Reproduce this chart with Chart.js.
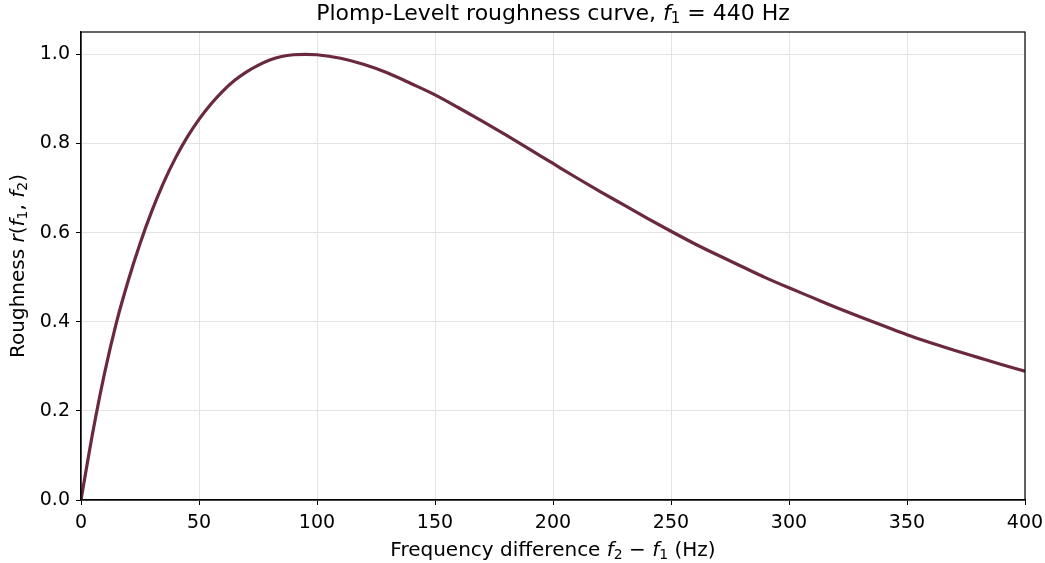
<!DOCTYPE html>
<html>
<head>
<meta charset="utf-8">
<script src="https://cdn.jsdelivr.net/npm/chart.js@4.4.1/dist/chart.umd.min.js"></script>
<style>
  html, body { margin: 0; padding: 0; background: #fff; }
  #wrap { width: 1045px; height: 563px; }
</style>
</head>
<body>
<div id="wrap"><canvas id="chart" width="1045" height="563"></canvas></div>
<script>
// frequency difference f2 - f1 in Hz
const freqDiff = [0, 5, 10, 15, 20, 25, 30, 35, 40, 45, 50, 55, 60, 65, 70, 75, 80, 85, 90, 95,
  100, 110, 120, 130, 140, 150, 160, 170, 180, 190, 200, 210, 220, 230, 240, 250,
  260, 270, 280, 290, 300, 310, 320, 330, 340, 350, 360, 370, 380, 390, 400];
const roughness = [0, 0.152, 0.285, 0.398, 0.492, 0.575, 0.648, 0.712, 0.767, 0.814, 0.854,
  0.888, 0.917, 0.941, 0.960, 0.975, 0.987, 0.995, 0.999, 1.0,
  0.999, 0.991, 0.977, 0.958, 0.934, 0.909, 0.880, 0.850, 0.819, 0.787, 0.755,
  0.723, 0.692, 0.662, 0.632, 0.603, 0.575, 0.549, 0.524, 0.499, 0.476,
  0.454, 0.432, 0.411, 0.391, 0.371, 0.353, 0.336, 0.320, 0.304, 0.289];
const xTicks = [0, 50, 100, 150, 200, 250, 300, 350, 400];
const yTicks = [0, 0.2, 0.4, 0.6, 0.8, 1.0];

const FONT = "'DejaVu Sans', sans-serif";

// segments: [text, style] where style is '' | 'i' (italic) | 's' (subscript)
function drawRich(ctx, segs, x, y, size) {
  const fontFor = (st) => {
    if (st === 'i') return `italic ${size}px ${FONT}`;
    if (st === 's') return `${Math.round(size * 0.7)}px ${FONT}`;
    return `${size}px ${FONT}`;
  };
  let total = 0;
  segs.forEach(([t, st]) => { ctx.font = fontFor(st); total += ctx.measureText(t).width; });
  let cx = x - total / 2;
  ctx.textBaseline = 'middle';
  ctx.textAlign = 'left';
  ctx.fillStyle = '#000';
  segs.forEach(([t, st]) => {
    ctx.font = fontFor(st);
    ctx.fillText(t, cx, st === 's' ? y + size * 0.22 : y);
    cx += ctx.measureText(t).width;
  });
}

const titleSegs = [['Plomp-Levelt roughness curve, ', ''], ['f', 'i'], ['1', 's'], [' = 440 Hz', '']];
const xLabelSegs = [['Frequency difference ', ''], ['f', 'i'], ['2', 's'], [' \u2212 ', ''], ['f', 'i'], ['1', 's'], [' (Hz)', '']];
const yLabelSegs = [['Roughness ', ''], ['r', 'i'], ['(', ''], ['f', 'i'], ['1', 's'], [', ', ''], ['f', 'i'], ['2', 's'], [')', '']];

const decorations = {
  id: 'decorations',
  afterDraw(chart) {
    const ctx = chart.ctx;
    const a = chart.chartArea;
    ctx.save();
    ctx.strokeStyle = '#000';
    ctx.lineWidth = 1.2;
    ctx.strokeRect(a.left, a.top, a.right - a.left, a.bottom - a.top);
    drawRich(ctx, titleSegs, (a.left + a.right) / 2, 14, 22);
    drawRich(ctx, xLabelSegs, (a.left + a.right) / 2, 551, 20);
    ctx.translate(19, (a.top + a.bottom) / 2);
    ctx.rotate(-Math.PI / 2);
    drawRich(ctx, yLabelSegs, 0, 0, 20);
    ctx.restore();
  }
};

new Chart(document.getElementById('chart').getContext('2d'), {
  type: 'line',
  data: {
    datasets: [{
      data: freqDiff.map((f, i) => ({ x: f, y: roughness[i] })),
      borderColor: '#6a2841',
      borderWidth: 3.2,
      pointRadius: 0,
      fill: false,
      cubicInterpolationMode: 'monotone'
    }]
  },
  options: {
    responsive: false,
    animation: false,
    layout: { padding: { top: 32, right: 20, left: 0, bottom: 0 } },
    plugins: { legend: { display: false }, tooltip: { enabled: false }, title: { display: false } },
    scales: {
      x: {
        type: 'linear',
        min: 0,
        max: 400,
        afterBuildTicks: (s) => { s.ticks = xTicks.map(v => ({ value: v })); },
        afterFit: (s) => { s.height = 63; s.paddingLeft = 0; s.paddingRight = 0; },
        grid: { color: '#e3e3e3', tickColor: '#000', tickLength: 5 },
        border: { color: '#000', width: 1.2 },
        ticks: { color: '#000', font: { family: FONT, size: 19 }, padding: 7, maxRotation: 0 }
      },
      y: {
        type: 'linear',
        min: 0,
        max: 1.05,
        afterBuildTicks: (s) => { s.ticks = yTicks.map(v => ({ value: v })); },
        afterFit: (s) => { s.width = 81; s.paddingTop = 0; s.paddingBottom = 0; },
        grid: { color: '#e3e3e3', tickColor: '#000', tickLength: 5 },
        border: { color: '#000', width: 1.2 },
        ticks: { color: '#000', font: { family: FONT, size: 19 }, padding: 6, callback: (v) => v.toFixed(1) }
      }
    }
  },
  plugins: [decorations]
});
</script>
</body>
</html>
